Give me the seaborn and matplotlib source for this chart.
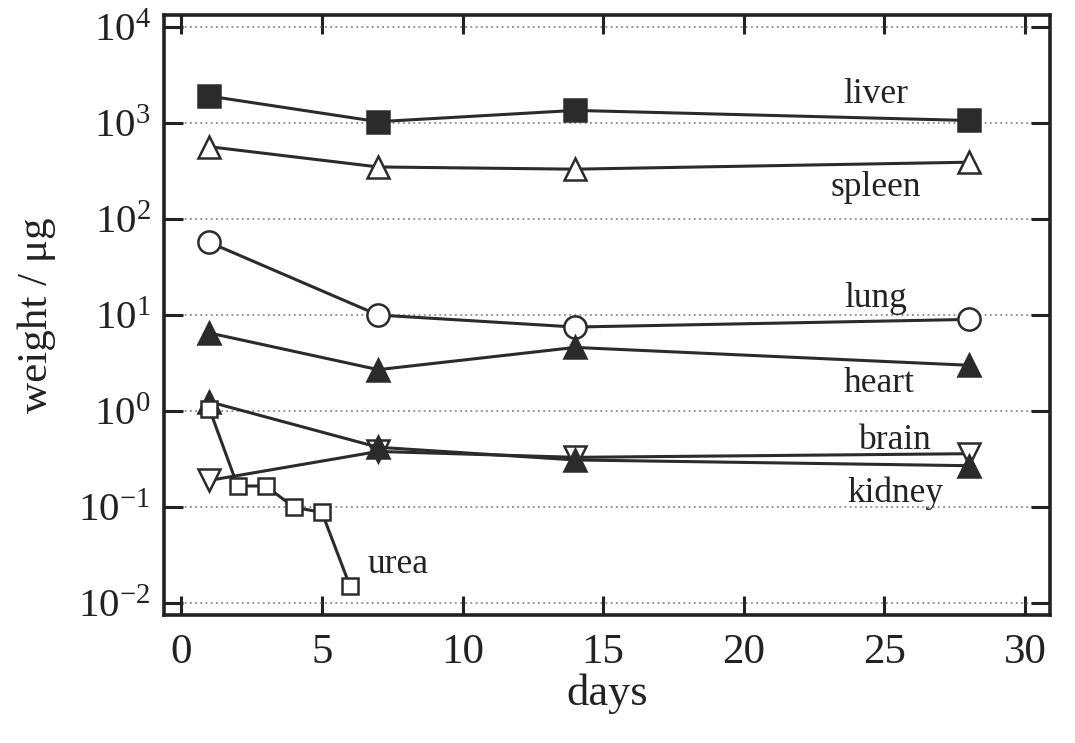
"""
Organ weight vs. days on a log scale, redrawn with seaborn.
"""

import matplotlib
matplotlib.use("Agg")
import matplotlib.pyplot as plt
import matplotlib.ticker as mticker
import pandas as pd
import seaborn as sns

# --- data ------------------------------------------------------------------
ORGAN_DAYS = [1, 7, 14, 28]
liver = [1900, 1030, 1350, 1060]
spleen = [565, 348, 330, 390]
lung = [57, 10, 7.5, 9.0]
heart = [6.5, 2.7, 4.6, 3.0]
brain = [0.19, 0.38, 0.33, 0.36]
kidney = [1.25, 0.42, 0.31, 0.27]

UREA_DAYS = [1, 2, 3, 4, 5, 6]
urea = [1.05, 0.166, 0.166, 0.10, 0.088, 0.015]

LABELS = ["liver", "spleen", "lung", "heart", "brain", "kidney", "urea"]
LABEL_X = [24.7, 24.7, 24.7, 24.8, 25.4, 25.4, 7.7]
LABEL_Y = [2000, 215, 15, 1.95, 0.5, 0.14, 0.025]

LINE = "#2b2b2b"

# marker style per series: (marker, size, filled)
STYLES = {
    "liver": ("s", 15.5, True),
    "spleen": ("^", 16, False),
    "lung": ("o", 16, False),
    "heart": ("^", 16, True),
    "brain": ("v", 16, False),
    "kidney": ("^", 16, True),
    "urea": ("s", 12, False),
}


def build_frame():
    rows = []
    for name, vals in zip(LABELS[:-1], [liver, spleen, lung, heart, brain, kidney]):
        rows += [{"organ": name, "days": d, "weight": v} for d, v in zip(ORGAN_DAYS, vals)]
    rows += [{"organ": "urea", "days": d, "weight": v} for d, v in zip(UREA_DAYS, urea)]
    return pd.DataFrame(rows)


def plot(df, out_path="out.png"):
    sns.set_style("ticks")
    plt.rcParams["font.family"] = ["Liberation Serif", "DejaVu Serif"]
    plt.rcParams["mathtext.fontset"] = "custom"
    plt.rcParams["mathtext.rm"] = "Liberation Serif"
    plt.rcParams["mathtext.it"] = "Liberation Serif:italic"

    fig = plt.figure(figsize=(10.75, 7.43), dpi=100)
    ax = fig.add_axes([0.153, 0.172, 0.824, 0.808])

    for name in LABELS:
        sub = df[df["organ"] == name]
        marker, size, filled = STYLES[name]
        sns.lineplot(data=sub, x="days", y="weight", ax=ax, color=LINE,
                     linewidth=2.2, marker=marker, markersize=size,
                     markerfacecolor=LINE if filled else "white",
                     markeredgecolor=LINE, markeredgewidth=1.8,
                     estimator=None, sort=False, legend=False, zorder=3)

    for name, x, y in zip(LABELS, LABEL_X, LABEL_Y):
        ax.text(x, y, name, ha="center", va="center", fontsize=25.5, color="#222222")

    ax.set_yscale("log")
    ax.set_xlim(-0.6, 30.9)
    ax.set_ylim(10 ** -2.125, 10 ** 4.125)
    ax.set_xticks([0, 5, 10, 15, 20, 25, 30])
    ax.yaxis.set_major_locator(mticker.LogLocator(base=10, numticks=10))
    ax.yaxis.set_minor_locator(mticker.NullLocator())

    ax.grid(axis="y", which="major", linestyle=(0, (1.2, 2.2)), color="#777777", linewidth=1.1)
    ax.tick_params(axis="both", which="major", direction="in", length=14, width=2.2,
                   top=True, right=True, colors="#222222")
    ax.tick_params(axis="x", labelsize=31, pad=13)
    ax.tick_params(axis="y", labelsize=29.5, pad=10)
    for side in ax.spines.values():
        side.set_linewidth(2.6)
        side.set_color("#222222")

    ax.set_xlabel("days", fontsize=32, color="#222222", labelpad=1)
    ax.set_ylabel("weight / μg", fontsize=31, color="#222222", labelpad=16)

    fig.savefig(out_path, dpi=100)
    plt.close(fig)


if __name__ == "__main__":
    plot(build_frame())
